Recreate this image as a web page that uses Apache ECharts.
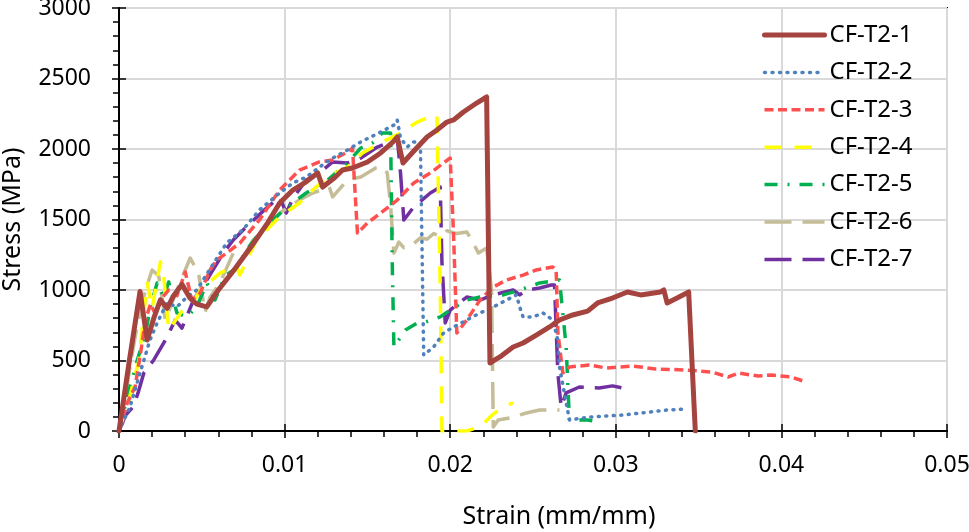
<!DOCTYPE html>
<html>
<head>
<meta charset="utf-8">
<script src="https://cdn.jsdelivr.net/npm/echarts@6/dist/echarts.min.js"></script>
<style>html,body{margin:0;padding:0;background:#fff}#c{width:969px;height:532px}</style>
</head>
<body>
<div id="c"></div>
<script>
const seriesNames = ['CF-T2-1','CF-T2-2','CF-T2-3','CF-T2-4','CF-T2-5','CF-T2-6','CF-T2-7'];

const strain1 = [0,0.0006,0.00127,0.0017,0.0021,0.0025,0.0029,0.0033,0.0038,0.0043,0.0047,0.0053,0.006,0.007,0.008,0.009,0.0097,0.0105,0.0112,0.012,0.0123,0.013,0.0135,0.0141,0.015,0.0158,0.01655,0.0168,0.01715,0.01775,0.0186,0.0192,0.0198,0.0202,0.0208,0.0216,0.0222,0.0224,0.0227,0.0230,0.0238,0.0244,0.0252,0.026,0.0266,0.0274,0.0283,0.0289,0.0298,0.0307,0.0315,0.0327,0.0329,0.0331,0.0337,0.0344,0.0348];
const stress1 = [0,480,990,645,800,930,870,960,1040,940,900,880,1000,1150,1310,1480,1617,1709,1759,1830,1730,1794,1851,1865,1908,1972,2050,2085,1901,1979,2085,2135,2191,2206,2262,2326,2369,482,504,525,596,624,680,738,787,823,850,908,943,986,965,986,1000,908,943,986,0];

const strain2 = [0,0.00066,0.00127,0.00187,0.0023,0.0029,0.0035,0.0041,0.0047,0.0055,0.0065,0.0075,0.0085,0.0097,0.0105,0.0113,0.0127,0.0138,0.0146,0.0158,0.0166,0.0168,0.017,0.0174,0.0178,0.0182,0.0184,0.019,0.0196,0.0202,0.021,0.0218,0.0226,0.0234,0.024,0.0242,0.0244,0.025,0.0256,0.0262,0.0265,0.0266,0.0272,0.0284,0.0304,0.0321,0.0331,0.0343];
const stress2 = [0,170,411,645,766,908,880,950,1000,1150,1333,1430,1570,1688,1759,1801,1922,1993,2050,2120,2170,2206,2078,2014,2050,2043,539,596,695,738,787,837,879,929,965,879,809,809,837,787,645,454,78,99,113,135,149,156];

const strain3 = [0,0.0005,0.00097,0.0013,0.0016,0.0019,0.0022,0.0025,0.003,0.0035,0.004,0.0044,0.0049,0.0055,0.0059,0.0065,0.0073,0.0085,0.0097,0.0109,0.0121,0.0129,0.0138,0.0141,0.0144,0.015,0.0158,0.0168,0.0178,0.0188,0.0196,0.02,0.0202,0.0204,0.021,0.0218,0.0226,0.0234,0.0244,0.0252,0.0262,0.0264,0.0265,0.0268,0.0272,0.0284,0.0294,0.031,0.0324,0.0342,0.0358,0.0368,0.0374,0.0386,0.0394,0.0406,0.0413];
const stress3 = [0,200,312,550,787,900,830,929,1000,960,1128,929,979,1142,1213,1262,1333,1500,1709,1851,1908,1922,1979,2007,1404,1475,1546,1638,1759,1830,1901,1936,1400,695,787,929,1021,1071,1106,1142,1163,1140,700,411,454,468,447,461,440,433,418,383,411,390,397,383,355];

const strain4 = [0,0.0006,0.0012,0.0017,0.002,0.0025,0.0027,0.003,0.0033,0.0038,0.0043,0.0049,0.0055,0.0061,0.0066,0.0071,0.0073,0.0083,0.0097,0.0109,0.0117,0.0126,0.0138,0.0147,0.0158,0.017,0.018,0.0186,0.0192,0.0194,0.0195,0.0201,0.021,0.0218,0.0226,0.0232,0.0238];
const stress4 = [0,220,500,1050,870,1200,1100,716,766,850,880,1000,1060,1120,1150,1163,1106,1355,1518,1617,1709,1801,1872,1972,2043,2113,2191,2220,2241,1000,0,0,0,30,120,170,200];

const strain5 = [0,0.0006,0.0011,0.0016,0.0019,0.0023,0.0027,0.003,0.0035,0.0041,0.0047,0.0053,0.0058,0.0064,0.0071,0.0077,0.0086,0.0097,0.0105,0.0113,0.0126,0.0138,0.0146,0.0153,0.0159,0.0164,0.0165,0.0166,0.0173,0.018,0.0185,0.0194,0.02,0.021,0.0218,0.0232,0.0242,0.0254,0.0266,0.027,0.0272,0.0283,0.029];
const stress5 = [0,290,500,695,880,1050,950,1057,837,809,880,1050,930,1100,1156,1284,1420,1540,1617,1688,1780,1901,2007,2043,2113,2113,1200,596,716,766,773,809,858,929,950,965,1000,1050,1071,600,78,78,64];

const strain6 = [0,0.0004,0.00066,0.0011,0.0016,0.002,0.0024,0.0028,0.0035,0.0043,0.0048,0.0052,0.0055,0.0061,0.0069,0.0075,0.0081,0.009,0.0097,0.0109,0.0117,0.0127,0.0129,0.0138,0.0146,0.0155,0.0159,0.0162,0.0164,0.0166,0.0169,0.0172,0.0176,0.0182,0.0186,0.019,0.0194,0.0198,0.0204,0.021,0.0213,0.0217,0.0222,0.0225,0.0226,0.0229,0.0236,0.0246,0.0254,0.0266];
const stress6 = [0,250,454,750,1000,1142,1100,787,1000,1227,1120,844,950,1050,1262,1234,1355,1450,1546,1638,1688,1730,1660,1780,1801,1865,1872,1830,1600,1262,1340,1300,1310,1370,1360,1400,1380,1420,1400,1411,1355,1262,1298,1000,28,78,92,128,149,149];

const strain7 = [0,0.0002,0.0004,0.00085,0.00115,0.0015,0.0021,0.0028,0.0034,0.0038,0.0045,0.0053,0.0063,0.0069,0.0078,0.0088,0.0097,0.0101,0.0105,0.0113,0.0121,0.0129,0.0138,0.0146,0.0156,0.0164,0.0168,0.017,0.0172,0.0178,0.0188,0.0194,0.0195,0.0197,0.02,0.021,0.0218,0.0226,0.0238,0.0242,0.0246,0.0254,0.0261,0.0263,0.0265,0.0267,0.027,0.0278,0.029,0.0298,0.0304];
const stress7 = [0,57,113,170,270,411,504,645,787,730,929,1071,1262,1355,1460,1570,1660,1546,1650,1780,1830,1908,1901,1936,2014,2050,2085,1830,1496,1589,1688,1730,1200,766,858,950,929,965,1000,965,1000,1014,1035,1035,411,170,270,312,305,320,305];

const strainData = [strain1,strain2,strain3,strain4,strain5,strain6,strain7];
const stressData = [stress1,stress2,stress3,stress4,stress5,stress6,stress7];

const colors = ['#a5433f','#4f81bd','#ff5050','#ffff00','#00b050','#c4bd97','#7030a0'];
const widths = [5,3.5,3.5,3.5,3.5,3.5,3.5];
const dashes = ['solid',[1,6.5],[9,4.5],[17,13],[13,10,2,10],[27,11],[27,11]];
const caps = ['round','round','butt','butt','butt','butt','butt'];

const FONT = 'Noto Sans';
const chart = echarts.init(document.getElementById('c'), null, {renderer:'canvas'});

const series = seriesNames.map((n,i)=>({
  name:n, type:'line', symbol:'none', showSymbol:false, xAxisIndex:0, yAxisIndex:0,
  data: strainData[i].map((x,k)=>[x, stressData[i][k]]),
  lineStyle:{color:colors[i], width:widths[i], type:dashes[i], cap:caps[i], join:'round'},
  itemStyle:{color:colors[i]},
  z: 10 - i
}));

const legendData = seriesNames.map((n,i)=>({
  name:n,
  itemStyle:{opacity:0},
  lineStyle:{color:colors[i], width:widths[i], type:dashes[i], cap:caps[i], opacity:1}
}));

const tickStyle = {color:'#000', width:1.5};
chart.setOption({
  animation:false,
  backgroundColor:'#fff',
  grid:{left:119, right:22, top:8, bottom:101, show:true, borderColor:'#000', borderWidth:2, backgroundColor:'transparent', containLabel:false, outerBoundsMode:'none'},
  legend:{
    orient:'vertical', left:762, top:23, padding:0, itemWidth:60, itemHeight:14, itemGap:13.4,
    textStyle:{fontFamily:FONT, fontSize:24, color:'#000', lineHeight:24},
    data:legendData
  },
  xAxis:[{
    type:'value', min:0, max:0.05, interval:0.01,
    name:'Strain (mm/mm)', nameLocation:'middle', nameGap:73,
    nameTextStyle:{fontFamily:FONT, fontSize:25, color:'#000', padding:[0,0,0,52]},
    axisLine:{show:true, lineStyle:{color:'#000', width:2}},
    axisTick:{show:true, inside:false, length:7, lineStyle:tickStyle},
    minorTick:{show:true, splitNumber:5, length:6, lineStyle:tickStyle},
    axisLabel:{fontFamily:FONT, fontSize:23, color:'#000', margin:23, formatter:v=>String(+v.toFixed(3))},
    splitLine:{show:true, lineStyle:{color:'#d9d9d9', width:2}}
  },{
    type:'value', min:0, max:0.05, interval:0.01, gridIndex:0, position:'bottom',
    axisLine:{show:false}, axisLabel:{show:false}, splitLine:{show:false},
    axisTick:{show:true, inside:true, length:7, lineStyle:tickStyle}
  }],
  yAxis:[{
    type:'value', min:0, max:3000, interval:500,
    name:'Stress (MPa)', nameLocation:'middle', nameGap:94, nameRotate:90,
    nameTextStyle:{fontFamily:FONT, fontSize:25, color:'#000'},
    axisLine:{show:true, lineStyle:{color:'#000', width:2}},
    axisTick:{show:true, inside:false, length:7, lineStyle:tickStyle},
    minorTick:{show:true, splitNumber:5, length:6, lineStyle:tickStyle},
    axisLabel:{fontFamily:FONT, fontSize:23, color:'#000', margin:28, formatter:v=>String(v)},
    splitLine:{show:true, lineStyle:{color:'#d9d9d9', width:2}}
  },{
    type:'value', min:0, max:3000, interval:500, gridIndex:0, position:'left',
    axisLine:{show:false}, axisLabel:{show:false}, splitLine:{show:false},
    axisTick:{show:true, inside:true, length:7, lineStyle:tickStyle}
  }],
  series: series
});
</script>
</body>
</html>
